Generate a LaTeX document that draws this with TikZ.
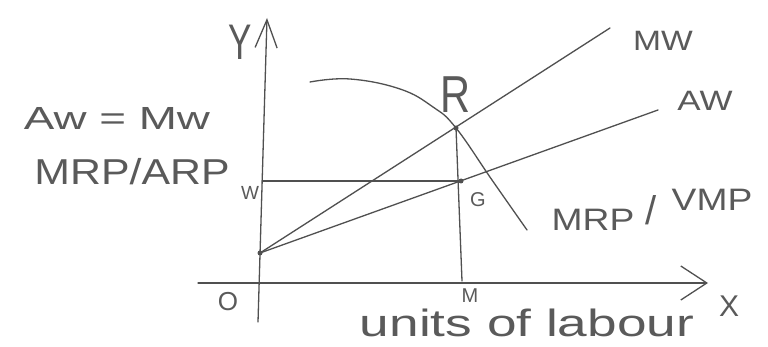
\documentclass[tikz,border=0pt]{standalone}
\usepackage{fontspec}
\setmainfont{Liberation Sans}
\usetikzlibrary{arrows.meta}
\definecolor{inkc}{HTML}{505050}
\definecolor{txtc}{HTML}{5A5A5A}
\newcommand{\fs}[1]{\fontsize{#1}{#1}\selectfont}
\begin{document}
\begin{tikzpicture}[x=1pt,y=-1pt,
  pen/.style={draw=inkc, line width=1.3pt, line cap=round},
  lbl/.style={text=txtc, inner sep=0pt},
  dot/.style={circle, fill=inkc, inner sep=0pt, minimum size=5pt},
  tipx/.style={-{Straight Barb[length=26pt,width=34pt]}},
  tipy/.style={-{Straight Barb[length=28pt,width=22pt]}}]
\useasboundingbox (0,0) rectangle (768,347);
\fill[white] (0,0) rectangle (768,347);

% points
\coordinate (ybot) at (258,322);
\coordinate (ytop) at (267,18);
\coordinate (xl) at (198,283);
\coordinate (xr) at (708,283);
\node[dot] (E) at (260,253) {};
\node[dot] (R) at (456,128) {};
\node[dot] (G) at (461,181) {};
\coordinate (Wp) at (262,181);
\coordinate (Mp) at (462,281);
\coordinate (mwend) at (610,28);
\coordinate (awend) at (658,110);

% axes
\draw[pen, tipy] (ybot) -- (ytop);
\draw[pen, tipx] (xl) -- (xr);

% lines
\draw[pen] (E.center) -- (mwend);
\draw[pen] (E.center) -- (awend);
\draw[pen] (Wp) -- (G.center);
\draw[pen] (R.center) -- (Mp);

% MRP curve
\draw[pen] plot[smooth, tension=0.7] coordinates {(310,82) (350,79) (400,89) (433,107) (456,128) (492,180) (527,230)};

% labels
\node[lbl, font=\fs{50}, xscale=0.7] (ylab) at (240,42) {Y};
\node[lbl, font=\fs{30}] (xlab) at (729,306) {X};
\node[lbl, font=\fs{26}] (olab) at (228,302) {O};
\node[lbl, font=\fs{20}] (mlab) at (470,296) {M};
\node[lbl, font=\fs{20}] (glab) at (478,200) {G};
\node[lbl, font=\fs{52}, xscale=0.8] (rlab) at (456,95) {R};
\node[lbl, font=\fs{19}] (wlab) at (250,193) {W};
\node[lbl, font=\fs{28}, xscale=1.2] (mwlab) at (663,41) {MW};
\node[lbl, font=\fs{28}, xscale=1.25] (awlab) at (705,101) {AW};
\node[lbl, font=\fs{31}, xscale=1.2] (mrp) at (593,220) {MRP};
\node[lbl, font=\fs{40}] (slash) at (651,210) {/};
\node[lbl, font=\fs{31}, xscale=1.2] (vmp) at (712,200) {VMP};
\node[lbl, font=\fs{32}, xscale=1.43] (awmw) at (117,118) {Aw = Mw};
\node[lbl, font=\fs{36}, xscale=1.19] (mrparp) at (132,172) {MRP/ARP};
\node[lbl, font=\fs{38}, xscale=1.4] (units) at (527,323) {units of labour};
\end{tikzpicture}
\end{document}
